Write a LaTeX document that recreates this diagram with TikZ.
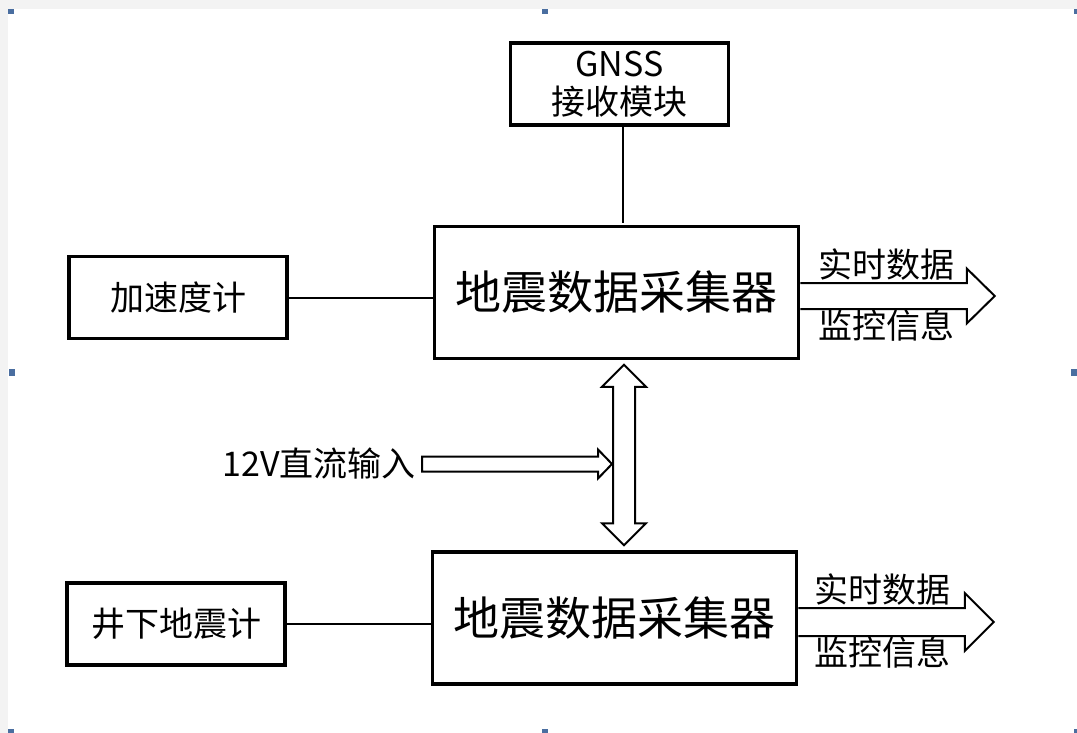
\documentclass[tikz,border=0pt]{standalone}
\usepackage{fontspec}
\newfontfamily\cjk{Noto Sans CJK SC}
\usetikzlibrary{calc,positioning}
\definecolor{frame}{HTML}{F3F3F3}
\definecolor{handle}{HTML}{4A6EA0}
\tikzset{
  line/.style={line width=1pt},
  hollow/.style={line width=1pt, line join=miter},
  box/.style={draw, line width=1.75pt, align=center, inner sep=0pt, font=\cjk\fontsize{17}{19}\selectfont},
  smallbox/.style={box, minimum width=109pt, minimum height=41pt},
  bigbox/.style={box, minimum width=182pt, minimum height=66pt, font=\cjk\fontsize{23}{26}\selectfont},
  lbl/.style={inner sep=1pt, font=\cjk\fontsize{17}{19}\selectfont},
  grip/.style={fill=handle, draw=none}
}

\begin{document}
\begin{tikzpicture}[x=0.5pt, y=-0.5pt, node distance=72pt]
  \useasboundingbox (0,0) rectangle (1077,733);
  \fill[frame] (0,0) rectangle (1077,733);
  \fill[white] (8,9) rectangle (1077,733);
  % selection handles of the screenshot
  \fill[grip] (8,9) rectangle (14,14);
  \fill[grip] (542,9) rectangle (548,14);
  \fill[grip] (1074,9) rectangle (1077,14);
  \fill[grip] (9,369) rectangle (15,376);
  \fill[grip] (1071,369) rectangle (1077,376);
  \fill[grip] (8,729) rectangle (14,733);
  \fill[grip] (542,729) rectangle (548,733);
  \fill[grip] (1074,729) rectangle (1077,733);

  \node[bigbox] (daqA) at (616.5,292.5) {地震数据采集器};
  \node[bigbox, below=95pt of daqA, xshift=-1pt] (daqB) {地震数据采集器};
  \node[smallbox, above=49pt of daqA, xshift=1.5pt] (gnss) {GNSS\\接收模块};
  \node[smallbox, left=of daqA, yshift=-2.5pt] (accel) {加速度计};
  \node[smallbox, left=of daqB, yshift=-3pt] (geo) {井下地震计};

  \coordinate (gfoot) at ($(gnss.south)+(3.5,0)$);
  \draw[line] (gfoot) -- ($(gfoot |- daqA.north)+(0,-2)$);
  \draw[line] (accel.east) -- (accel.east -| daqA.west);
  \draw[line] (geo.east) -- (geo.east -| daqB.west);

  % double arrow between the two collectors
  \coordinate (vtop) at ($(daqA.south)+(7.5,4.5)$);
  \coordinate (vbot) at ($(daqB.north)+(9.5,-5)$);
  \draw[hollow] (vtop) -- ++(22,22) -- ++(-11,0) -- ($(vbot)+(11,-22)$) -- ++(11,0)
    -- (vbot) -- ++(-22,-22) -- ++(11,0) -- ($(vtop)+(-11,22)$) -- ++(-11,0) -- cycle;

  % power input
  \node[lbl, anchor=east] (power) at (418,464) {12V直流输入};
  \coordinate (ptail) at ($(power.east)+(4,0)$);
  \coordinate (ptip) at ($(power.east -| vtop)+(-12,0)$);
  \draw[hollow] ($(ptail)+(0,-7.5)$) -- ($(ptip)+(-14,-7.5)$) -- ++(0,-7) -- (ptip)
    -- ++(-14,14.5) -- ++(0,-7) -- ($(ptail)+(0,7.5)$) -- cycle;

  % outputs
  \coordinate (outA) at ($(daqA.east)+(0,3.5)$);
  \draw[hollow] ($(outA)+(0,-13)$) -- ++(166.5,0) -- ++(0,-14.5) -- ++(28,27.5)
    -- ++(-28,27.5) -- ++(0,-14.5) -- ($(outA)+(0,13)$);
  \node[lbl, above] (dataA) at ($(outA)+(86,-13)$) {实时数据};
  \node[lbl, below] (infoA) at ($(outA)+(86,11)$) {监控信息};

  \coordinate (outB) at ($(daqB.east)+(0,4)$);
  \draw[hollow] ($(outB)+(0,-14)$) -- ++(166.5,0) -- ++(0,-15) -- ++(29,29)
    -- ++(-29,29) -- ++(0,-15) -- ($(outB)+(0,14)$);
  \node[lbl, above] (dataB) at ($(outB)+(84,-14)$) {实时数据};
  \node[lbl, below] (infoB) at ($(outB)+(84,12)$) {监控信息};
\end{tikzpicture}
\end{document}
